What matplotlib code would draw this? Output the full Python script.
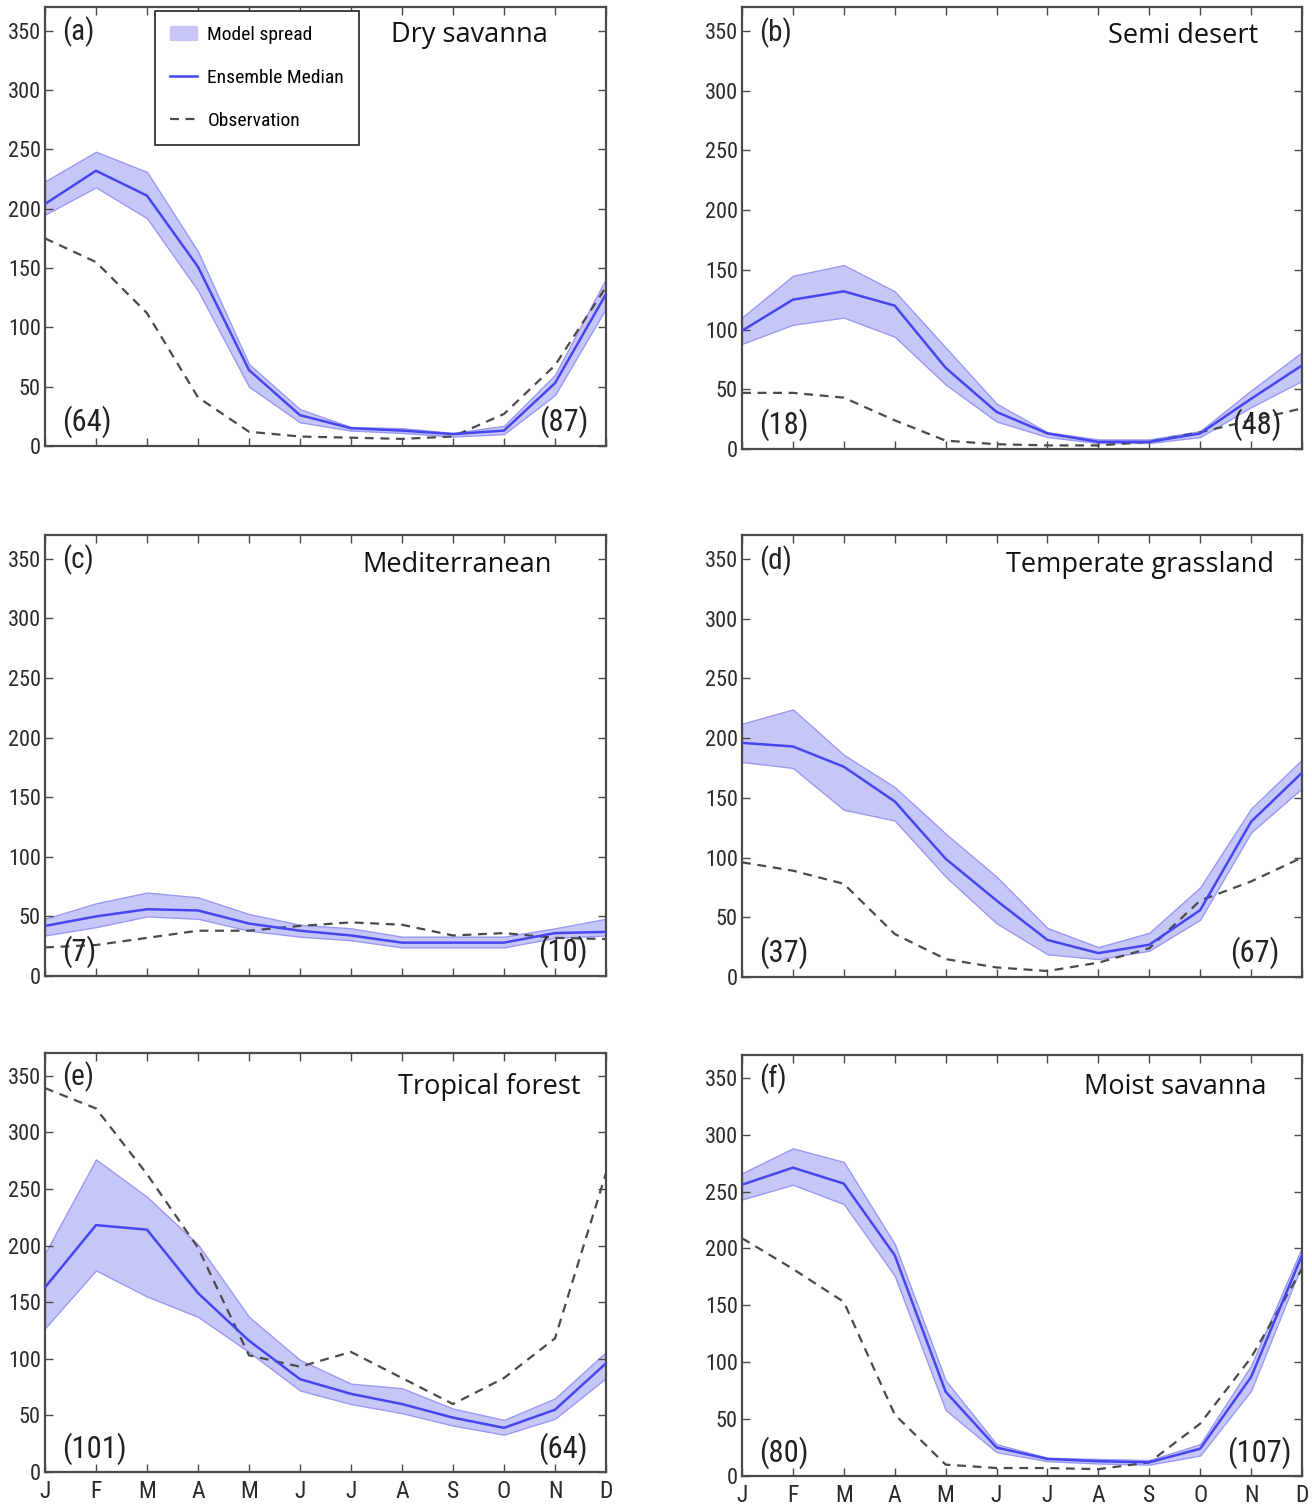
import matplotlib
matplotlib.use("Agg")
import matplotlib.pyplot as plt
from matplotlib import font_manager
from matplotlib.patches import Patch
from matplotlib.lines import Line2D

# ---------------- data ----------------
months = ["J", "F", "M", "A", "M", "J", "J", "A", "S", "O", "N", "D"]
panel_tags = ["(a)", "(b)", "(c)", "(d)", "(e)", "(f)"]
regions = ["Dry savanna", "Semi desert", "Mediterranean",
           "Temperate grassland", "Tropical forest", "Moist savanna"]
count_left = ["(64)", "(18)", "(7)", "(37)", "(101)", "(80)"]
count_right = ["(87)", "(48)", "(10)", "(67)", "(64)", "(107)"]
yticks = [0, 50, 100, 150, 200, 250, 300, 350]

median_a = [204, 232, 211, 151, 64, 26, 15, 13, 10, 13, 53, 128]
upper_a = [223, 248, 231, 164, 69, 31, 16, 15, 11, 17, 60, 141]
lower_a = [195, 218, 192, 131, 50, 20, 13, 11, 8, 10, 43, 116]
obs_a = [175, 155, 112, 41, 12, 8, 7, 6, 8, 27, 68, 134]

median_b = [99, 125, 132, 120, 68, 31, 13, 6, 6, 13, 42, 70]
upper_b = [110, 145, 154, 132, 85, 38, 14, 8, 8, 15, 49, 81]
lower_b = [88, 104, 110, 94, 54, 23, 10, 5, 5, 10, 35, 57]
obs_b = [47, 47, 43, 24, 7, 4, 3, 3, 6, 14, 24, 34]

median_c = [42, 50, 56, 55, 44, 38, 34, 28, 28, 28, 36, 37]
upper_c = [48, 61, 70, 66, 52, 43, 40, 33, 33, 33, 40, 48]
lower_c = [34, 41, 50, 48, 38, 33, 30, 24, 24, 24, 32, 34]
obs_c = [24, 26, 32, 38, 38, 42, 45, 43, 34, 36, 32, 31]

median_d = [196, 193, 176, 147, 99, 64, 31, 20, 27, 56, 130, 171]
upper_d = [212, 224, 186, 159, 120, 84, 41, 25, 37, 75, 141, 182]
lower_d = [180, 175, 140, 131, 84, 45, 19, 15, 22, 48, 121, 158]
obs_d = [96, 89, 78, 36, 15, 8, 5, 12, 24, 64, 80, 100]

median_e = [163, 218, 214, 158, 116, 82, 69, 60, 48, 39, 55, 96]
upper_e = [193, 276, 243, 201, 137, 99, 78, 74, 56, 46, 65, 106]
lower_e = [127, 178, 155, 137, 106, 72, 60, 52, 41, 33, 47, 83]
obs_e = [339, 321, 263, 198, 103, 93, 106, 83, 60, 83, 118, 264]

median_f = [256, 271, 257, 194, 74, 25, 15, 13, 12, 24, 87, 194]
upper_f = [266, 288, 276, 204, 84, 28, 16, 15, 14, 28, 97, 201]
lower_f = [243, 256, 239, 176, 58, 21, 13, 11, 10, 18, 75, 186]
obs_f = [209, 182, 153, 54, 10, 7, 7, 6, 12, 46, 104, 182]

medians = [median_a, median_b, median_c, median_d, median_e, median_f]
uppers = [upper_a, upper_b, upper_c, upper_d, upper_e, upper_f]
lowers = [lower_a, lower_b, lower_c, lower_d, lower_e, lower_f]
observations = [obs_a, obs_b, obs_c, obs_d, obs_e, obs_f]

# ---------------- fonts ----------------
cond_words = ("Condensed", "Narrow", "Compressed")
cond_stretch = ("condensed", "semi-condensed", "extra-condensed",
                "ultra-condensed")
cands = []
for f in font_manager.fontManager.ttflist:
    is_cond = any(w in f.name for w in cond_words) or \
        (isinstance(f.stretch, str) and f.stretch in cond_stretch) or \
        (isinstance(f.stretch, int) and f.stretch < 500)
    if is_cond and f.style == "normal" and f.weight in (400, "normal", "regular"):
        cands.append(f)
pref = ["Liberation Sans Narrow", "Roboto Condensed", "Open Sans Condensed",
        "Noto Sans Condensed", "DejaVu Sans Condensed", "Noto Sans"]
chosen = None
for p in pref:
    for f in cands:
        if f.name == p:
            chosen = f
            break
    if chosen:
        break
if chosen is None and cands:
    chosen = cands[0]

if chosen is not None:
    def NF(size):
        return font_manager.FontProperties(fname=chosen.fname, size=size)
    scale = 1.0
else:
    def NF(size):
        return font_manager.FontProperties(family="DejaVu Sans", size=size)
    scale = 0.8

title_font = ["Open Sans", "DejaVu Sans"]

# ---------------- layout ----------------
W, H = 1312, 1506
boxes = [  # left, right, top, bottom in pixels
    (45, 606, 7, 446), (742, 1302, 7, 449),
    (45, 606, 535, 976), (742, 1302, 535, 977),
    (45, 606, 1053, 1472), (742, 1302, 1055, 1476),
]
title_x = [0.897, 0.921, 0.904, 0.95, 0.954, 0.936]
title_y = [0.936, 0.935, 0.932, 0.932, 0.919, 0.924]
right_x = [0.968, 0.963, 0.968, 0.96, 0.968, 0.982]

fill_col = (0.78, 0.78, 0.97)
edge_col = (0.60, 0.60, 0.96)
med_col = "#4646ef"
obs_col = "#4a4a4a"
spine_col = "#4a4a4a"

fig = plt.figure(figsize=(W / 100, H / 100), dpi=100)
x = list(range(12))

for i in range(6):
    l, r, t, b = boxes[i]
    ax = fig.add_axes([l / W, 1 - b / H, (r - l) / W, (b - t) / H])
    ax.fill_between(x, lowers[i], uppers[i], facecolor=fill_col,
                    edgecolor=edge_col, linewidth=1.0, zorder=1)
    ax.plot(x, medians[i], color=med_col, lw=1.8, zorder=3)
    ax.plot(x, observations[i], color=obs_col, lw=1.6,
            dashes=(4, 3), zorder=2)
    ax.set_xlim(0, 11)
    ax.set_ylim(0, 370)
    ax.set_xticks(x)
    ax.set_yticks(yticks)
    ax.tick_params(direction="in", length=6, width=1.0, top=True,
                   right=True, color=spine_col, labelcolor="#2a2a2a",
                   pad=3)
    ax.tick_params(axis="x", pad=6)
    for s in ax.spines.values():
        s.set_color(spine_col)
        s.set_linewidth(1.6)
    for lab in ax.get_yticklabels():
        lab.set_fontproperties(NF(16 * scale))
    if i >= 4:
        ax.set_xticklabels(months)
        for lab in ax.get_xticklabels():
            lab.set_fontproperties(NF(17 * scale))
    else:
        ax.set_xticklabels([])

    ax.text(0.03, 0.943, panel_tags[i], transform=ax.transAxes,
            ha="left", va="center", fontproperties=NF(21 * scale),
            color="#222222")
    ax.text(title_x[i], title_y[i], regions[i], transform=ax.transAxes,
            ha="right", va="center", fontsize=19.5, family=title_font,
            color="#111111")
    ax.text(0.03, 0.055, count_left[i], transform=ax.transAxes,
            ha="left", va="center", fontproperties=NF(22 * scale),
            color="#222222")
    ax.text(right_x[i], 0.055, count_right[i], transform=ax.transAxes,
            ha="right", va="center", fontproperties=NF(22 * scale),
            color="#222222")

    if i == 0:
        handles = [
            Patch(facecolor=fill_col, edgecolor=fill_col),
            Line2D([], [], color=med_col, lw=1.8),
            Line2D([], [], color=obs_col, lw=1.6, dashes=(4, 3)),
        ]
        leg = ax.legend(handles, ["Model spread", "Ensemble Median",
                                  "Observation"],
                        loc="upper left", bbox_to_anchor=(0.196, 0.991),
                        prop=NF(14 * scale),
                        frameon=True, fancybox=False, edgecolor="#222222",
                        framealpha=1.0, labelspacing=1.3,
                        handlelength=1.4, handletextpad=0.55,
                        borderpad=0.75, borderaxespad=0)
        leg.get_frame().set_linewidth(1.2)

fig.savefig("out.png", dpi=100)
